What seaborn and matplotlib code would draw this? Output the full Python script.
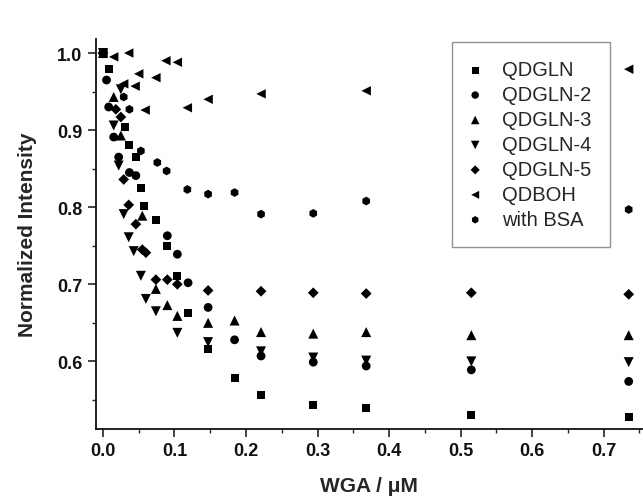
import pandas as pd
import matplotlib
matplotlib.use('Agg')
import matplotlib.pyplot as plt
import seaborn as sns

# values
qdgln_x = [0, 0.008, 0.031, 0.037, 0.046, 0.053, 0.057, 0.074, 0.090, 0.104, 0.119, 0.147, 0.184, 0.221, 0.294, 0.368, 0.515, 0.735]
qdgln_y = [1.0, 0.979, 0.904, 0.881, 0.865, 0.825, 0.802, 0.783, 0.750, 0.711, 0.663, 0.616, 0.579, 0.556, 0.543, 0.539, 0.530, 0.528]

qdgln2_x = [0, 0.005, 0.008, 0.015, 0.022, 0.037, 0.046, 0.090, 0.104, 0.119, 0.147, 0.184, 0.221, 0.294, 0.368, 0.515, 0.735]
qdgln2_y = [1.0, 0.965, 0.930, 0.891, 0.865, 0.845, 0.841, 0.763, 0.739, 0.702, 0.670, 0.628, 0.607, 0.599, 0.594, 0.589, 0.574]

qdgln3_x = [0, 0.015, 0.025, 0.055, 0.074, 0.090, 0.104, 0.147, 0.184, 0.221, 0.294, 0.368, 0.515, 0.735]
qdgln3_y = [1.0, 0.943, 0.893, 0.789, 0.694, 0.673, 0.659, 0.650, 0.653, 0.638, 0.636, 0.638, 0.634, 0.634]

qdgln4_x = [0, 0.015, 0.022, 0.025, 0.029, 0.036, 0.043, 0.053, 0.060, 0.074, 0.104, 0.147, 0.221, 0.294, 0.368, 0.515, 0.735]
qdgln4_y = [1.0, 0.906, 0.854, 0.953, 0.791, 0.761, 0.743, 0.711, 0.681, 0.665, 0.637, 0.625, 0.613, 0.605, 0.601, 0.600, 0.599]

qdgln5_x = [0, 0.018, 0.025, 0.029, 0.036, 0.046, 0.055, 0.060, 0.074, 0.090, 0.104, 0.147, 0.221, 0.294, 0.368, 0.515, 0.735]
qdgln5_y = [1.0, 0.927, 0.917, 0.836, 0.803, 0.778, 0.745, 0.741, 0.706, 0.706, 0.700, 0.692, 0.691, 0.689, 0.688, 0.689, 0.687]

qdboh_x = [0, 0.015, 0.029, 0.036, 0.045, 0.050, 0.059, 0.074, 0.088, 0.104, 0.118, 0.147, 0.221, 0.368, 0.735]
qdboh_y = [1.0, 0.995, 0.960, 1.0, 0.957, 0.973, 0.926, 0.968, 0.990, 0.988, 0.929, 0.940, 0.947, 0.951, 0.979]

bsa_x = [0, 0.029, 0.037, 0.053, 0.076, 0.089, 0.118, 0.147, 0.184, 0.221, 0.294, 0.368, 0.735]
bsa_y = [1.0, 0.943, 0.927, 0.873, 0.858, 0.847, 0.823, 0.817, 0.819, 0.791, 0.792, 0.808, 0.797]

series = {
    'QDGLN': (qdgln_x, qdgln_y),
    'QDGLN-2': (qdgln2_x, qdgln2_y),
    'QDGLN-3': (qdgln3_x, qdgln3_y),
    'QDGLN-4': (qdgln4_x, qdgln4_y),
    'QDGLN-5': (qdgln5_x, qdgln5_y),
    'QDBOH': (qdboh_x, qdboh_y),
    'with BSA': (bsa_x, bsa_y),
}
markers = {'QDGLN': 's', 'QDGLN-2': 'o', 'QDGLN-3': '^', 'QDGLN-4': 'v',
           'QDGLN-5': 'D', 'QDBOH': '<', 'with BSA': 'h'}
# marker areas so the symbols look about the same size
sizes = {'QDGLN': 34, 'QDGLN-2': 40, 'QDGLN-3': 52, 'QDGLN-4': 52,
         'QDGLN-5': 30, 'QDBOH': 46, 'with BSA': 40}

sns.set_style('ticks')
plt.rcParams['font.family'] = ['Liberation Sans', 'DejaVu Sans']

fig = plt.figure(figsize=(6.43, 5.02), dpi=100)
ax = fig.add_axes([0.149, 0.143, 0.851, 0.777])

for name, (xs, ys) in series.items():
    df = pd.DataFrame({'wga': xs, 'intensity': ys})
    sns.scatterplot(data=df, x='wga', y='intensity', marker=markers[name],
                    color='black', s=sizes[name], edgecolor='none',
                    label=name, ax=ax)

ax.set_xlim(-0.01, 0.755)
ax.set_ylim(0.512, 1.018)
ax.set_xticks([0.0, 0.1, 0.2, 0.3, 0.4, 0.5, 0.6, 0.7])
ax.set_xticks([0.05, 0.15, 0.25, 0.35, 0.45, 0.55, 0.65, 0.75], minor=True)
ax.set_yticks([0.6, 0.7, 0.8, 0.9, 1.0])
ax.set_yticks([0.55, 0.65, 0.75, 0.85, 0.95], minor=True)
ax.tick_params(which='major', direction='out', length=6, width=1.1, labelsize=13, colors='#111111')
ax.tick_params(which='minor', direction='out', length=3, width=1.0)
for lab in ax.get_xticklabels() + ax.get_yticklabels():
    lab.set_fontweight('bold')

sns.despine(ax=ax)
for sp in ['left', 'bottom']:
    ax.spines[sp].set_linewidth(1.3)
    ax.spines[sp].set_color('#111111')

ax.set_xlabel('WGA / \u03bcM', fontsize=15, fontweight='bold', labelpad=12)
ax.set_ylabel('Normalized Intensity', fontsize=15, fontweight='bold', labelpad=15)

handles, labels = ax.get_legend_handles_labels()
leg = ax.legend(handles, labels, loc='upper left', bbox_to_anchor=(0.651, 0.992),
                borderaxespad=0, fontsize=14.5, frameon=True, fancybox=False,
                edgecolor='#777777', handletextpad=1.1, labelspacing=0.295,
                borderpad=0.9, markerscale=0.85, handlelength=0.5)
leg.get_frame().set_linewidth(1.0)

fig.savefig('out.png', dpi=100)
